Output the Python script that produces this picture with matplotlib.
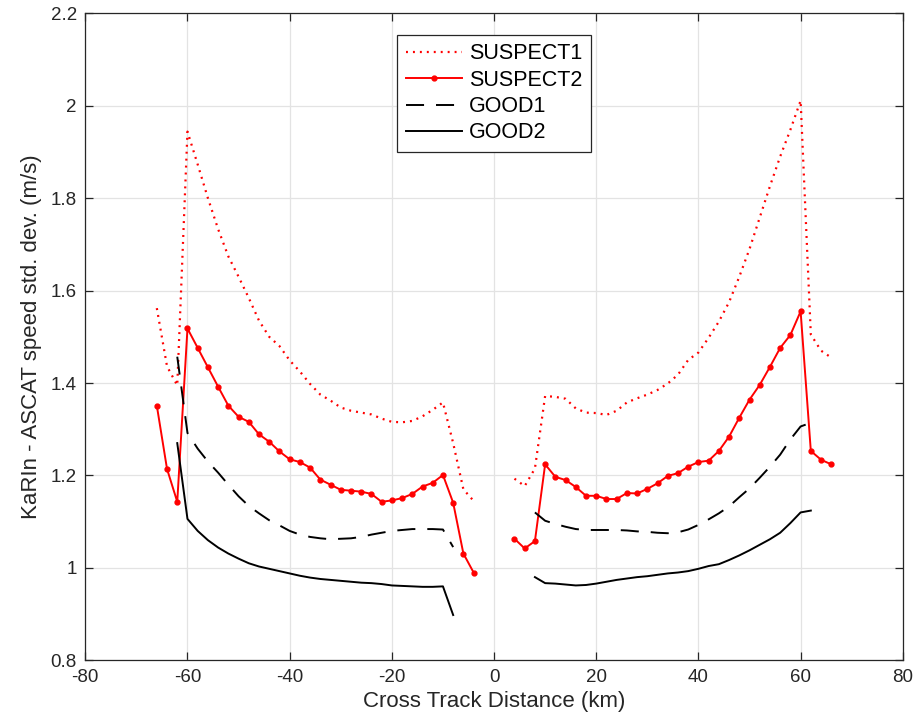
import numpy as np
import matplotlib
matplotlib.use("Agg")
import matplotlib.pyplot as plt

plt.rcParams['font.family'] = ['Liberation Sans', 'DejaVu Sans']
plt.rcParams['lines.scale_dashes'] = False
plt.rcParams['axes.unicode_minus'] = False

# cross track positions (km), two swaths
x_sus_left = np.arange(-66, -3, 2)
x_sus_right = np.arange(4, 67, 2)
x_good_left = np.arange(-62, -7, 2)
x_good_right = np.arange(8, 63, 2)

suspect1_left = [1.562, 1.436, 1.395, 1.944, 1.873, 1.800, 1.733, 1.674, 1.630, 1.584,
                 1.535, 1.500, 1.480, 1.449, 1.425, 1.398, 1.375, 1.362, 1.347, 1.340,
                 1.336, 1.332, 1.323, 1.316, 1.315, 1.318, 1.328, 1.342, 1.358, 1.270,
                 1.170, 1.145]
suspect1_right = [1.193, 1.177, 1.215, 1.372, 1.370, 1.366, 1.345, 1.336, 1.335, 1.331,
                  1.340, 1.358, 1.367, 1.375, 1.385, 1.399, 1.418, 1.450, 1.466, 1.498,
                  1.533, 1.575, 1.630, 1.690, 1.758, 1.826, 1.890, 1.948, 2.011, 1.505,
                  1.470, 1.455]
suspect2_left = [1.351, 1.214, 1.143, 1.518, 1.476, 1.434, 1.392, 1.351, 1.327, 1.316,
                 1.289, 1.273, 1.252, 1.235, 1.229, 1.217, 1.191, 1.180, 1.169, 1.167,
                 1.165, 1.160, 1.143, 1.146, 1.151, 1.160, 1.176, 1.184, 1.201, 1.141,
                 1.031, 0.990]
suspect2_right = [1.063, 1.042, 1.058, 1.224, 1.197, 1.190, 1.175, 1.156, 1.156, 1.149,
                  1.149, 1.162, 1.161, 1.171, 1.183, 1.199, 1.205, 1.219, 1.229, 1.232,
                  1.253, 1.284, 1.325, 1.364, 1.396, 1.435, 1.476, 1.504, 1.555, 1.253,
                  1.234, 1.224]
good1_left = [1.457, 1.292, 1.258, 1.230, 1.206, 1.180, 1.155, 1.134, 1.118, 1.103,
              1.092, 1.080, 1.072, 1.067, 1.064, 1.062, 1.063, 1.064, 1.067, 1.072,
              1.076, 1.080, 1.082, 1.084, 1.084, 1.084, 1.083, 1.045]
good1_right = [1.120, 1.102, 1.095, 1.089, 1.084, 1.082, 1.082, 1.082, 1.082, 1.081,
               1.079, 1.078, 1.076, 1.075, 1.077, 1.083, 1.093, 1.105, 1.118, 1.133,
               1.153, 1.172, 1.195, 1.219, 1.245, 1.278, 1.306, 1.314]
good2_left = [1.270, 1.106, 1.080, 1.060, 1.044, 1.031, 1.020, 1.010, 1.003, 0.998,
              0.993, 0.988, 0.983, 0.979, 0.976, 0.974, 0.972, 0.970, 0.968, 0.967,
              0.965, 0.962, 0.961, 0.960, 0.959, 0.959, 0.960, 0.898]
good2_right = [0.980, 0.967, 0.966, 0.964, 0.962, 0.963, 0.966, 0.970, 0.974, 0.977,
               0.980, 0.982, 0.985, 0.988, 0.990, 0.993, 0.998, 1.004, 1.008, 1.017,
               1.027, 1.038, 1.050, 1.062, 1.076, 1.097, 1.120, 1.124]

x_ticks = [-80, -60, -40, -20, 0, 20, 40, 60, 80]
y_ticks = [0.8, 1.0, 1.2, 1.4, 1.6, 1.8, 2.0, 2.2]
y_tick_labels = ['0.8', '1', '1.2', '1.4', '1.6', '1.8', '2', '2.2']


def join(xl, yl, xr, yr):
    # put a NaN between the two swaths so each series is one line
    x = np.concatenate([xl, [np.nan], xr])
    y = np.concatenate([yl, [np.nan], yr])
    return x, y


ink = '#262626'
fig = plt.figure(figsize=(9.2, 7.2), dpi=100)
ax = fig.add_axes([0.0927, 0.0829, 0.8886, 0.8986])

x, y = join(x_sus_left, suspect1_left, x_sus_right, suspect1_right)
ax.plot(x, y, color='red', lw=1.6, ls=(0, (1.4, 3.6)), label='SUSPECT1')
x, y = join(x_sus_left, suspect2_left, x_sus_right, suspect2_right)
ax.plot(x, y, color='red', lw=1.4, marker='o', ms=3.5, label='SUSPECT2')
x, y = join(x_good_left, good1_left, x_good_right, good1_right)
ax.plot(x, y, color='black', lw=1.4, ls=(0, (13, 8.6)), label='GOOD1')
x, y = join(x_good_left, good2_left, x_good_right, good2_right)
ax.plot(x, y, color='black', lw=1.4, label='GOOD2')

ax.set_xlim(-80, 80)
ax.set_ylim(0.8, 2.2)
ax.set_xticks(x_ticks)
ax.set_yticks(y_ticks)
ax.set_yticklabels(y_tick_labels)
ax.grid(True, color='#e3e3e3', lw=0.9)
ax.set_axisbelow(True)
for s in ax.spines.values():
    s.set_color(ink)
    s.set_linewidth(0.9)
ax.tick_params(direction='in', length=6, width=0.9, color=ink, labelcolor=ink,
               labelsize=13.5, top=True, right=True)
ax.tick_params(axis='x', pad=6)
ax.tick_params(axis='y', pad=6)

ax.set_xlabel('Cross Track Distance (km)', fontsize=16, color=ink, labelpad=4)
ax.set_ylabel('KaRIn - ASCAT speed std. dev. (m/s)', fontsize=16, color=ink, labelpad=6)

leg = ax.legend(loc='upper center', bbox_to_anchor=(0.5, 0.967), fontsize=15.5,
                frameon=True, fancybox=False, framealpha=1, edgecolor=ink,
                handlelength=2.6, handletextpad=0.35, labelspacing=0.25,
                borderpad=0.4, borderaxespad=0)
leg.get_frame().set_linewidth(0.9)
for t in leg.get_texts():
    t.set_color('black')

fig.savefig('out.png', dpi=100)
